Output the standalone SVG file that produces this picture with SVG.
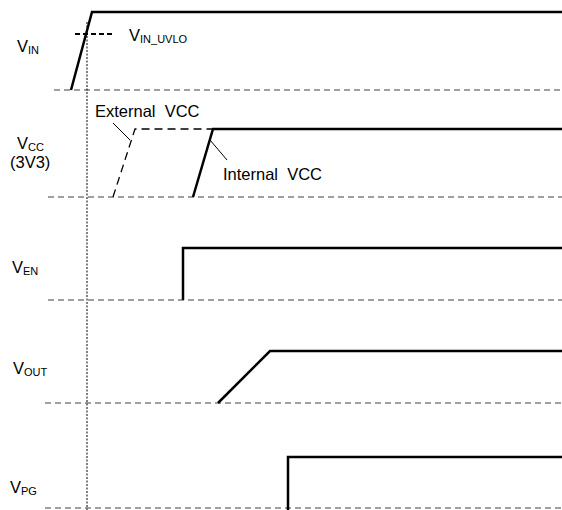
<svg xmlns="http://www.w3.org/2000/svg" width="562" height="510" viewBox="0 0 562 510">
<style>
text{font-family:"Liberation Sans",Arial,sans-serif;font-size:16.5px;fill:#000}
.sub{font-size:11px}
.base{stroke:#808080;stroke-width:1.6;stroke-dasharray:6,4;fill:none}
.sig{stroke:#000;stroke-width:2.5;fill:none;stroke-linejoin:miter}
.thin{stroke:#000;stroke-width:1;fill:none}
</style>
<rect width="562" height="510" fill="#fff"/>
<g id="vin">
<line class="base" x1="54" y1="90" x2="562" y2="90"/>
<polyline class="sig" points="71,90 92,12 562,12"/>
<line x1="75" y1="34" x2="112" y2="34" stroke="#000" stroke-width="2" stroke-dasharray="5,3"/>
<text x="17" y="52">V<tspan class="sub" dy="2">IN</tspan></text>
<text x="129" y="41">V<tspan class="sub" dy="2">IN_UVLO</tspan></text>
</g>
<g id="vcc">
<line class="base" x1="48" y1="197" x2="562" y2="197"/>
<polyline points="113,197 135,129 213,129" stroke="#000" stroke-width="1.3" fill="none" stroke-dasharray="8,5"/>
<polyline class="sig" points="193,197 213,129 562,129"/>
<text x="17" y="149">V<tspan class="sub" dy="2">CC</tspan></text>
<text x="10" y="168">(3V3)</text>
<text x="95" y="117" xml:space="preserve">External  VCC</text>
<text x="223" y="180" xml:space="preserve">Internal  VCC</text>
</g>
<g id="ven">
<line class="base" x1="48" y1="300" x2="562" y2="300"/>
<polyline class="sig" points="183,300 183,248 562,248"/>
<text x="12" y="273">V<tspan class="sub" dy="2">EN</tspan></text>
</g>
<g id="vout">
<line class="base" x1="45" y1="403" x2="562" y2="403"/>
<polyline class="sig" points="218,403 270,351 562,351"/>
<text x="13" y="374">V<tspan class="sub" dy="2">OUT</tspan></text>
</g>
<g id="vpg">
<line class="base" x1="45" y1="508" x2="562" y2="508"/>
<polyline class="sig" points="288,510 288,457 562,457"/>
<text x="10" y="493">V<tspan class="sub" dy="2">PG</tspan></text>
</g>
<g id="connectors">
<line x1="87" y1="22" x2="87" y2="510" stroke="#000" stroke-width="1" stroke-dasharray="2,1.5"/>
<line class="thin" x1="113" y1="123" x2="130" y2="140"/>
<line class="thin" x1="210" y1="140" x2="227" y2="160"/>
</g>
</svg>
